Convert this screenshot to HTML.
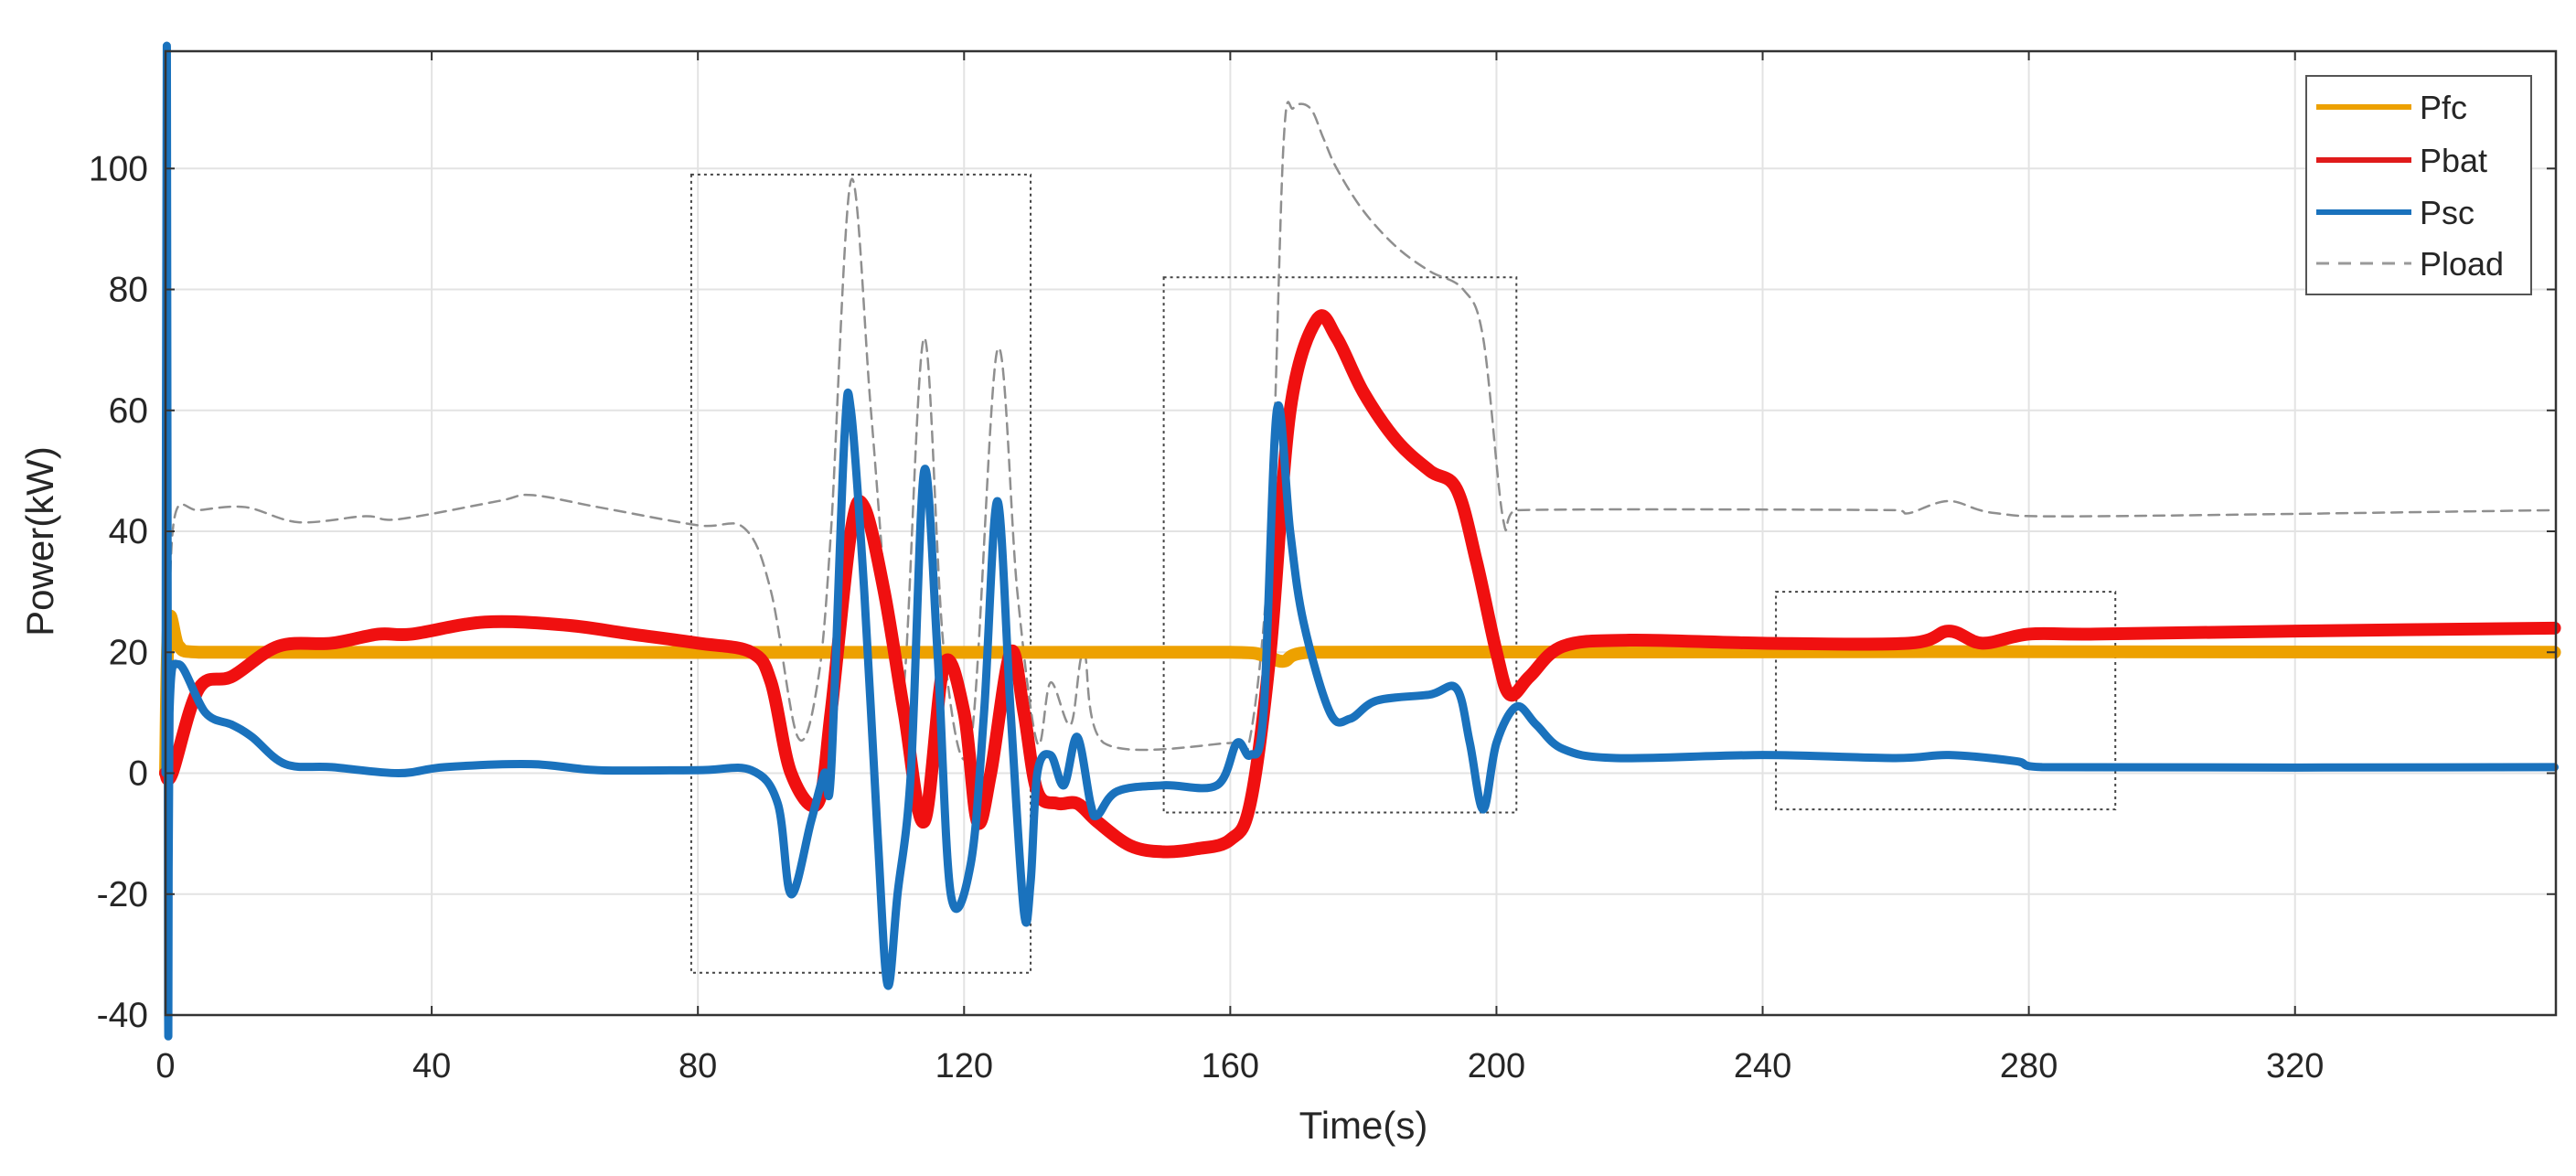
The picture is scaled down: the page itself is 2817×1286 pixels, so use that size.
<!DOCTYPE html>
<html><head><meta charset="utf-8"><style>
html,body{margin:0;padding:0;background:#fff;}
svg{display:block;font-family:"Liberation Sans",Arial,sans-serif;}
</style></head><body>
<svg id="chart" width="2817" height="1286" viewBox="0 0 2817 1286" xmlns="http://www.w3.org/2000/svg">
<g id="grid"></g>
<g id="boxes"></g>
<g id="series"></g>
<g id="axes"></g>
<text x="1491" y="1245" font-size="42" text-anchor="middle" fill="#262626">Time(s)</text>
<text transform="translate(58,592) rotate(-90)" font-size="42" text-anchor="middle" fill="#262626">Power(kW)</text>
<g>
<rect x="2522" y="83" width="246" height="239" fill="#fff" stroke="#555" stroke-width="2"/>
<g><line x1="2533" y1="117" x2="2637" y2="117" stroke="#EDA100" stroke-width="6"/><text x="2646" y="130" font-size="36" fill="#262626">Pfc</text></g>
<g><line x1="2533" y1="175" x2="2637" y2="175" stroke="#E01B1B" stroke-width="6"/><text x="2646" y="188" font-size="36" fill="#262626">Pbat</text></g>
<g><line x1="2533" y1="232" x2="2637" y2="232" stroke="#1A72BD" stroke-width="6"/><text x="2646" y="245" font-size="36" fill="#262626">Psc</text></g>
<g><line x1="2533" y1="288" x2="2637" y2="288" stroke="#999" stroke-width="3" stroke-dasharray="14,10"/><text x="2646" y="301" font-size="36" fill="#262626">Pload</text></g>
</g>
</svg>
<script>
const xTicks=[0,40,80,120,160,200,240,280,320];
const yTicks=[-40,-20,0,20,40,60,80,100];
const tLoad=[0,0.5,1.5,5,12,20,30,35,50,55,65,80,87,91,95,98,100,103,106,109,111,114,117,121,125,128,131,133,136,138,141,160,163,166,168,169.5,172,174,176,180,185,190,195,198,201,203,260,262,268,275,290,359];
const pLoad=[0,25,43,43.5,44,41.5,42.5,42,45,46,44,41,40.5,30,6,15,40,98,60,20,15,72,20,5,70,30,5,15,8,20,5,5,6,40,104,110,110,105,100,93,87,83,80,72,42,43.5,43.5,43,45,43,42.5,43.5];
const tFc=[0,0.5,2,5,160,165,168,172,359];
const pFc=[0,25,21,20,20,19.5,18.5,20,20];
const tBat=[0,1,5,10,17,25,32,37,48,60,70,80,88,91,94,98,100,103,105,108,111,114,117,120,122,124,127,129,131,134,137,140,145,150,155,160,163,166,169,173,176,180,185,190,194,197,200,202,205,210,220,240,262,268,273,280,290,320,359];
const pBat=[0,0,14,16,21,21.5,23,23,25,24.5,23,21.5,20,15,0,-5,10,40,44,30,10,-8,18,10,-8,0,20,10,-3,-5,-5,-8,-12,-13,-12.5,-11,-5,20,60,75,72,63,55,50,47,35,20,13,16,21,22,21.5,21.5,23.5,21.5,23,23,23.5,24];
const tSc=[0,0.2,0.4,0.6,2,6,10,13,18,25,35,42,55,65,80,88,92,94,97,99,100,102,103,105,107,108.5,110,112,114,116,118,121,123,125,127,129,130,131,133,135,137,139,140,143,150,158,161,163,165,167,169,171,175,178,182,190,194,196,198,200,203,206,210,218,240,260,268,278,282,359];
const pSc=[0,120,-40,10,18,10,8,6,1.5,1,0,1,1.5,0.5,0.5,0.5,-5,-20,-8,0,0,55,60,30,-10,-35,-20,0,50,20,-20,-15,10,45,10,-23,-18,0,3,-2,6,-5,-7,-3,-2,-2,5,3,10,60,40,25,10,9,12,13,14,5,-6,5,11,8,4,2.5,3,2.5,3,2,1,1];
const boxT0=[79,150,242], boxT1=[130,203,293], boxP0=[-33,-6.5,-6], boxP1=[99,82,30];

const L=181,R=2795,T=56,B=1110,XMIN=0,XMAX=359.2,YMIN=-40,YMAX=119.4;
const sx=v=>L+(v-XMIN)/(XMAX-XMIN)*(R-L);
const sy=v=>B-(v-YMIN)/(YMAX-YMIN)*(B-T);
const NS='http://www.w3.org/2000/svg';
function mk(tag,parent){const e=document.createElementNS(NS,tag);parent.appendChild(e);return e;}
const grid=document.getElementById('grid'),axes=document.getElementById('axes'),series=document.getElementById('series'),boxes=document.getElementById('boxes');
xTicks.forEach(v=>{
 const g=mk('line',grid);g.setAttribute('x1',sx(v));g.setAttribute('x2',sx(v));g.setAttribute('y1',T);g.setAttribute('y2',B);g.setAttribute('stroke','#e3e3e3');g.setAttribute('stroke-width','2');
 
 
 const t=mk('text',axes);t.setAttribute('x',sx(v));t.setAttribute('y',1178);t.setAttribute('font-size','38');t.setAttribute('text-anchor','middle');t.setAttribute('fill','#262626');t.textContent=v;
 
 
 [[B,B-10],[T,T+10]].forEach(p=>{const k=mk('line',axes);k.setAttribute('x1',sx(v));k.setAttribute('x2',sx(v));k.setAttribute('y1',p[0]);k.setAttribute('y2',p[1]);k.setAttribute('stroke','#333');k.setAttribute('stroke-width','2');
 
 });
});
yTicks.forEach(v=>{
 const g=mk('line',grid);g.setAttribute('x1',L);g.setAttribute('x2',R);g.setAttribute('y1',sy(v));g.setAttribute('y2',sy(v));g.setAttribute('stroke','#e3e3e3');g.setAttribute('stroke-width','2');
 
 
 const t=mk('text',axes);t.setAttribute('x',162);t.setAttribute('y',sy(v)+13);t.setAttribute('font-size','39');t.setAttribute('text-anchor','end');t.setAttribute('fill','#262626');t.textContent=v;
 
 
 [[L,L+10],[R,R-10]].forEach(p=>{const k=mk('line',axes);k.setAttribute('x1',p[0]);k.setAttribute('x2',p[1]);k.setAttribute('y1',sy(v));k.setAttribute('y2',sy(v));k.setAttribute('stroke','#333');k.setAttribute('stroke-width','2');
 
 });
});
const frame=mk('rect',axes);frame.setAttribute('x',L);frame.setAttribute('y',T);frame.setAttribute('width',R-L);frame.setAttribute('height',B-T);frame.setAttribute('fill','none');frame.setAttribute('stroke','#333');frame.setAttribute('stroke-width','2.5');


boxT0.forEach((t0,i)=>{
 const r=mk('rect',boxes);r.setAttribute('x',sx(t0));r.setAttribute('y',sy(boxP1[i]));r.setAttribute('width',sx(boxT1[i])-sx(t0));r.setAttribute('height',sy(boxP0[i])-sy(boxP1[i]));r.setAttribute('fill','none');r.setAttribute('stroke','#444');r.setAttribute('stroke-width','2');r.setAttribute('stroke-dasharray','3,4');
 
 
});
function smoothPath(ts,ps){
 const P=ts.map((t,i)=>[sx(t),sy(ps[i])]);
 let d='M'+P[0][0]+','+P[0][1];
 for(let i=0;i<P.length-1;i++){
  const p0=P[Math.max(0,i-1)],p1=P[i],p2=P[i+1],p3=P[Math.min(P.length-1,i+2)];
  const k=1/6;
  const c1=[p1[0]+(p2[0]-p0[0])*k,p1[1]+(p2[1]-p0[1])*k];
  const c2=[p2[0]-(p3[0]-p1[0])*k,p2[1]-(p3[1]-p1[1])*k];
  c1[0]=Math.min(Math.max(c1[0],p1[0]),p2[0]);c2[0]=Math.min(Math.max(c2[0],p1[0]),p2[0]);
  d+=' C'+c1[0]+','+c1[1]+' '+c2[0]+','+c2[1]+' '+p2[0]+','+p2[1];
 }
 return d;
}
function line(ts,ps,color,w,dash,name){
 const p=mk('path',series);p.setAttribute('d',smoothPath(ts,ps));
 p.setAttribute('fill','none');p.setAttribute('stroke',color);p.setAttribute('stroke-width',w);p.setAttribute('stroke-linejoin','round');p.setAttribute('stroke-linecap','round');
 if(dash)p.setAttribute('stroke-dasharray',dash);
 
 
}
line(tLoad,pLoad,'#8f8f8f',2.5,'12,8','pload-line');
line(tFc,pFc,'#EDA100',14,null,'pfc-line');
line(tBat,pBat,'#F01010',14,null,'pbat-line');
line(tSc,pSc,'#1A72BD',9,null,'psc-line');
</script>
</body></html>
